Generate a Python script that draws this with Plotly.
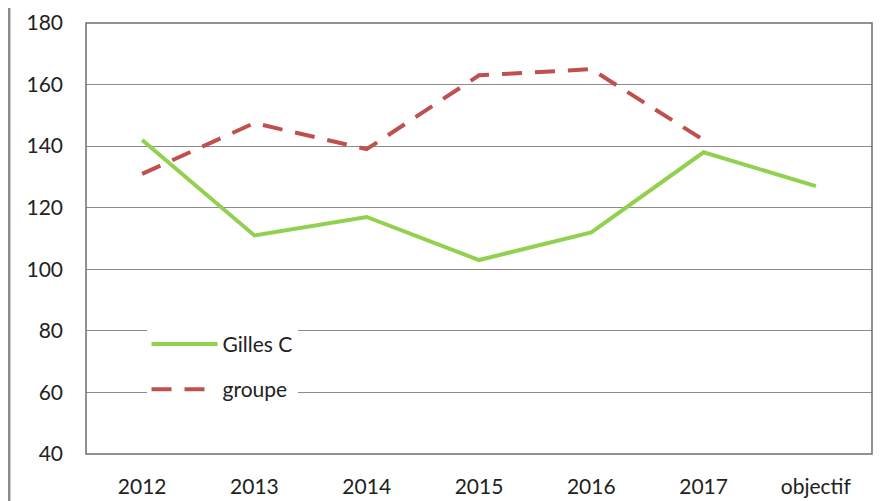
import plotly.graph_objects as go

categories = ["2012", "2013", "2014", "2015", "2016", "2017", "objectif"]
gilles_c = [142, 111, 117, 103, 112, 138, 127]
groupe = [131, 147.5, 139, 163, 165, 142, None]
y_ticks = [40, 60, 80, 100, 120, 140, 160, 180]

FONT = "Lato, 'Open Sans', sans-serif"
FS = 21

fig = go.Figure()
fig.add_trace(go.Scatter(
    x=categories, y=gilles_c, name="Gilles C", mode="lines",
    line=dict(color="#92D050", width=4), legendgroup="a",
))
fig.add_trace(go.Scatter(
    x=categories, y=groupe, name="groupe", mode="lines",
    line=dict(color="#C0504D", width=4, dash="20px,13px"), legendgroup="b",
))

fig.update_layout(
    width=873, height=493,
    margin=dict(l=78, r=9, t=15, b=47, autoexpand=False),
    paper_bgcolor="white", plot_bgcolor="white",
    font=dict(family=FONT, size=FS, color="#222222"),
    showlegend=True,
    legend=dict(
        x=0.077, y=0.302, xanchor="left", yanchor="top",
        bgcolor="white", borderwidth=0,
        font=dict(family=FONT, size=FS, color="#222222"),
        tracegroupgap=15, itemwidth=66,
    ),
    xaxis=dict(
        type="category", range=[-0.5, 6.5], automargin=False,
        showgrid=False, zeroline=False, showline=False,
        ticks="", ticklabelstandoff=18,
        tickfont=dict(family=FONT, size=FS, color="#222222"),
    ),
    yaxis=dict(
        range=[40, 180], tickvals=y_ticks, automargin=False,
        showgrid=True, gridcolor="#8C8C8C", gridwidth=1,
        zeroline=False, showline=False, ticks="",
        ticklabelstandoff=22,
        tickfont=dict(family=FONT, size=FS, color="#222222"),
    ),
    shapes=[
        dict(type="rect", xref="x domain", yref="y domain",
             x0=0, x1=1, y0=0, y1=1,
             line=dict(color="#6E6E6E", width=1.5), layer="above"),
        dict(type="line", xref="x domain", yref="paper",
             x0=-0.098, x1=-0.098, y0=-0.2, y1=1.1,
             line=dict(color="#8C8C8C", width=3)),
    ],
)

fig.write_html("out.html")
